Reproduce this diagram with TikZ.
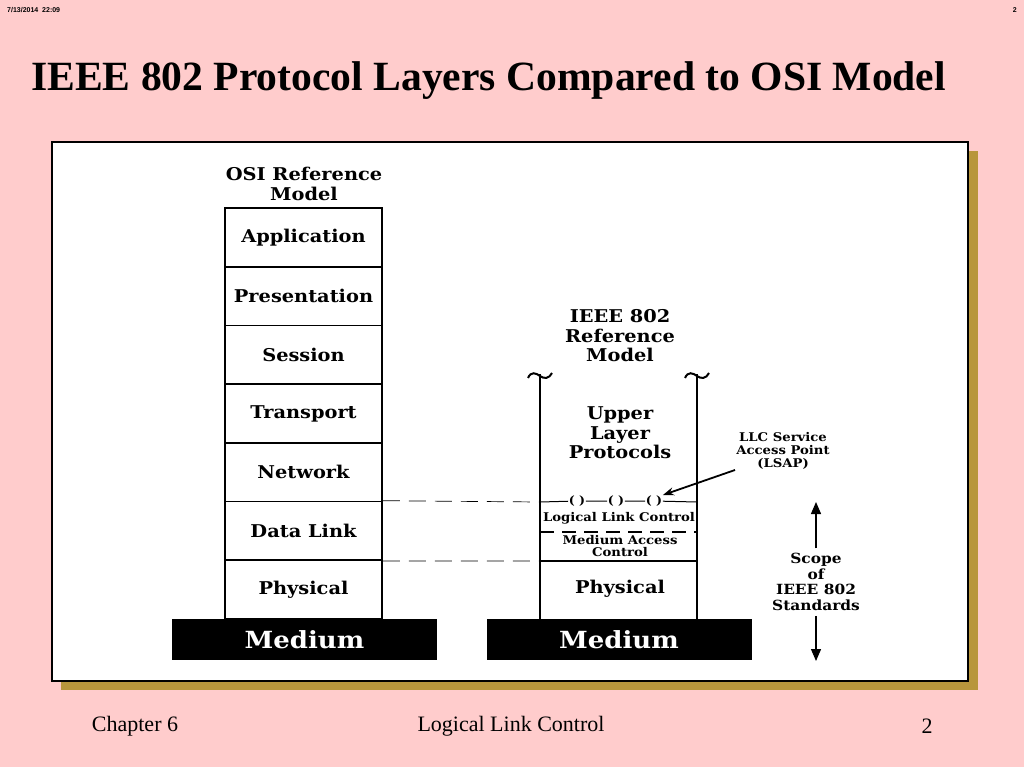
\documentclass[tikz,border=0pt]{standalone}
\usepackage{fontspec}
\newfontfamily\timesfont{Liberation Serif}
\newfontfamily\arialfont{Liberation Sans}
\newfontfamily\dfont{DejaVu Serif}[FakeStretch=1.1]
\usetikzlibrary{arrows.meta}
\definecolor{bgpink}{RGB}{255,204,204}
\definecolor{shadowgold}{RGB}{184,150,60}
\tikzset{
  layer/.style={draw, line width=1.6pt, minimum width=157pt, minimum height=58.7pt, inner sep=0pt, font=\dfont\bfseries\fontsize{17.6}{19}\selectfont},
  medium/.style={fill=black, text=white, minimum width=265pt, minimum height=41pt, inner sep=0pt, font=\dfont\bfseries\fontsize{23.6}{25}\selectfont},
  lbl/.style={align=center, font=\dfont\bfseries\fontsize{17.6}{19.5}\selectfont, inner sep=0pt},
  small/.style={align=center, font=\dfont\bfseries\fontsize{12}{12}\selectfont, inner sep=0pt},
  sap/.style={font=\dfont\bfseries\fontsize{11.5}{12}\selectfont, inner sep=0.5pt},
  iline/.style={line width=2.6pt},
  dashconn/.style={line width=0.7pt, dash pattern=on 17pt off 9pt},
  foot/.style={font=\timesfont\fontsize{22}{24}\selectfont, inner sep=0pt},
}
\begin{document}
\begin{tikzpicture}[x=1pt, y=-1pt]
\useasboundingbox (0,0) rectangle (1024,767);
\fill[bgpink] (0,0) rectangle (1024,767);
% header
\node[anchor=west, inner sep=0pt, font=\arialfont\bfseries\fontsize{7}{8}\selectfont] (date) at (7,10) {7/13/2014\ \ 22:09};
\node[anchor=east, inner sep=0pt, font=\arialfont\bfseries\fontsize{7}{8}\selectfont] (pg) at (1017,10) {2};
% title
\node[anchor=west, inner sep=0pt, font=\timesfont\bfseries\fontsize{41.6}{44}\selectfont] (title) at (31,81) {IEEE 802 Protocol Layers Compared to OSI Model};
% frame
\fill[shadowgold] (61,151) rectangle (978,690);
\draw[fill=white, line width=1.2pt] (52,142) rectangle (968,681);
% OSI stack
\node[lbl] (osititle) at (304,184) {OSI Reference\\Model};
\foreach \name/\txt [count=\i from 0] in {app/Application, pres/Presentation, sess/Session, trans/Transport, net/Network, dl/Data Link, phy/Physical}{
  \node[layer] (\name) at (303.5,{208+58.7*(\i+0.5)}) {\txt};
}
\node[medium] (med1) at (304.5,639.5) {Medium};
% IEEE stack
\node[lbl] (ieeetitle) at (620,336) {IEEE 802\\Reference\\Model};
\node[lbl] (upper) at (620,433) {Upper\\Layer\\Protocols};
\coordinate (lt) at (540,374);
\coordinate (rt) at (697,374);
\coordinate (lb) at (540,619);
\coordinate (rb) at (697,619);
\draw[iline] (lt) -- (lb);
\draw[iline] (rt) -- (rb);
\draw[line width=2pt] (lt) ++(-12,4) .. controls +(3,-7) and +(-4,-3) .. ++(12,-2) .. controls +(4,3) and +(-3,6) .. ++(12,-3);
\draw[line width=2pt] (rt) ++(-12,4) .. controls +(3,-7) and +(-4,-3) .. ++(12,-2) .. controls +(4,3) and +(-3,6) .. ++(12,-3);
\node[sap] (s1) at (577,501) {(\ )};
\node[sap] (s2) at (616,501) {(\ )};
\node[sap] (s3) at (654,501) {(\ )};
\coordinate (llcL) at (540,502);
\coordinate (llcR) at (697,502);
\draw[line width=1pt] (llcL) -- (s1) -- (s2) -- (s3) -- (llcR);
\node[small] (llc) at (619,518) {Logical Link Control};
\coordinate (macL) at (540,532);
\coordinate (macR) at (697,532);
\draw[line width=1.6pt, dash pattern=on 14pt off 8pt] (macL) -- (macR);
\node[small] (mac) at (620,546) {Medium Access\\Control};
\coordinate (phyL) at (540,561);
\coordinate (phyR) at (697,561);
\draw[line width=1.6pt] (phyL) -- (phyR);
\node[lbl] (phy2) at (620,589) {Physical};
\node[medium] (med2) at (619,639.5) {Medium};
% dashed connectors
\draw[dashconn] (dl.north east) -- (llcL);
\draw[dashconn] (dl.south east) -- (phyL);
% LSAP
\node[small, font=\dfont\bfseries\fontsize{12}{13}\selectfont] (lsap) at (783,451) {LLC Service\\Access Point\\(LSAP)};
\coordinate (lsapfrom) at (735,470);
\draw[line width=1.8pt, -{Stealth[length=11pt, width=8pt]}] (lsapfrom) -- (s3.north east);
% scope
\node[small, font=\dfont\bfseries\fontsize{14}{15.5}\selectfont] (scope) at (816,582) {Scope\\of\\IEEE 802\\Standards};
\coordinate (sup) at (816,502);
\coordinate (sdown) at (816,661);
\draw[line width=1.3pt, -{Triangle[length=12pt, width=10pt]}] (scope.north) ++(0,-5) -- (sup);
\draw[line width=1.3pt, -{Triangle[length=12pt, width=10pt]}] (scope.south) ++(0,5) -- (sdown);
% footer
\node[foot] (ch) at (135,726) {Chapter 6};
\node[foot] (llcfoot) at (511,726) {Logical Link Control};
\node[foot] (pnum) at (927,726) {2};
\end{tikzpicture}
\end{document}
